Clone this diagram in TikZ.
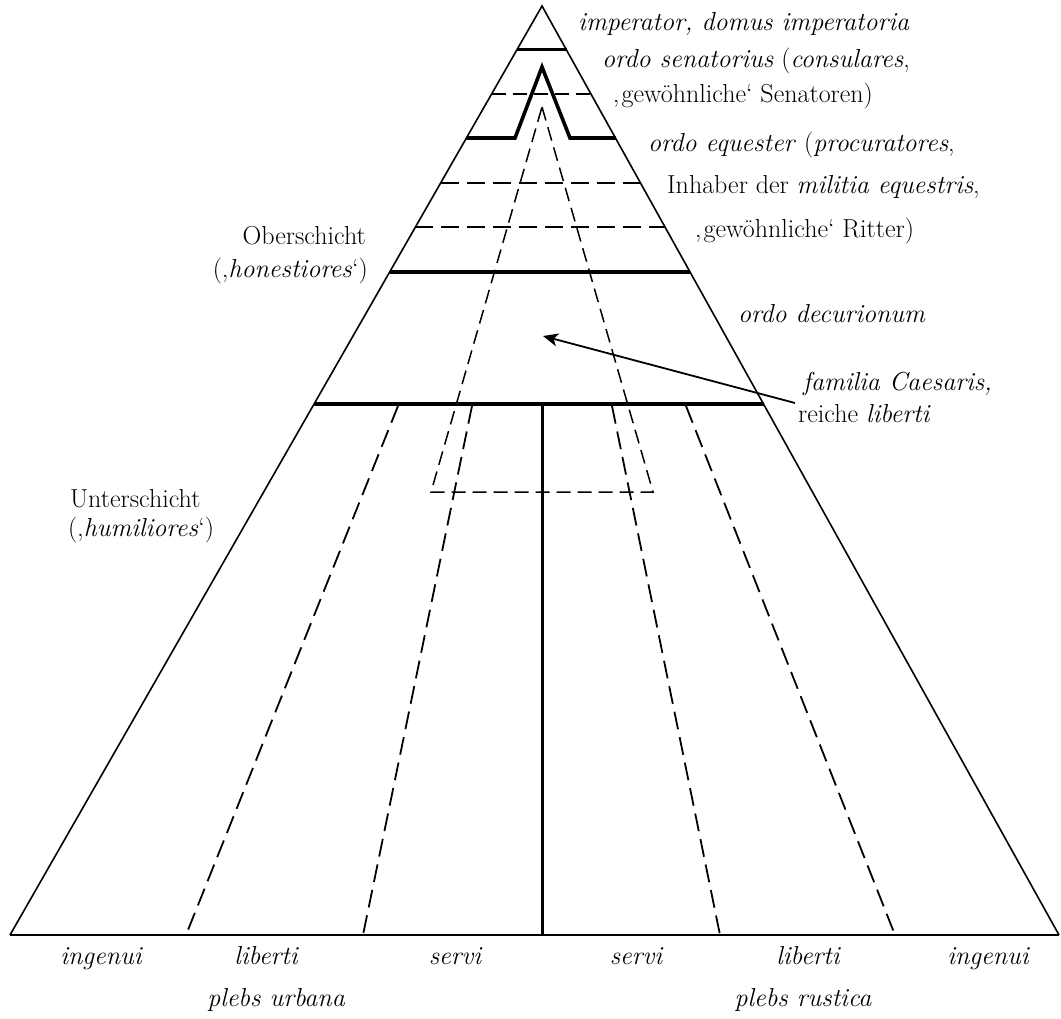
\documentclass[tikz,border=0pt]{standalone}
\usepackage{fontspec}
\usetikzlibrary{arrows.meta,calc}
\newcommand{\labfont}{\fontsize{26}{31}\selectfont\addfontfeatures{FakeBold=0.4}}
\begin{document}
\begin{tikzpicture}[x=1pt,y=-1pt,
  txt/.style={font=\labfont, inner sep=0pt, anchor=base west},
  rtxt/.style={font=\labfont, inner sep=0pt, anchor=base east},
  ctxt/.style={font=\labfont\itshape, inner sep=0pt, anchor=base},
  edgeline/.style={line width=1.6pt},
  heavy/.style={line width=3.6pt},
  heavier/.style={line width=4.6pt},
  dsh/.style={line width=1.8pt, dash pattern=on 18pt off 8pt},
  idsh/.style={line width=1.5pt, dash pattern=on 14pt off 7pt},
  arr/.style={line width=1.8pt, -{Stealth[length=15pt,width=13pt,inset=4pt]}}
]
\useasboundingbox (0,0) rectangle (1061,1019);
% pyramid
\coordinate (A) at (542,6);
\coordinate (BL) at (10,935);
\coordinate (BR) at (1059,935);
\draw[edgeline, line join=miter] (BL) -- (A) -- (BR);
\draw[line width=2pt] (BL) -- (BR);
% upper strata
\draw[line width=3pt] (516.8,50) -- (566.5,50);
\draw[idsh] (491.6,94) -- (591.0,94);
\coordinate (pk) at (542,67);
\draw[heavy, line join=miter] (466.4,138) -- (515,138) -- (pk) -- (570,138) -- (615.5,138);
\draw[dsh] (440.6,183) -- (640.5,183);
\draw[dsh] (415.4,227) -- (665.0,227);
\draw[heavy] (389.7,272) -- (690.0,272);
\draw[heavier] (314.1,404) -- (763.5,404);
% inner triangle (familia Caesaris)
\coordinate (ia) at (542,107);
\coordinate (il) at (431,492);
\coordinate (ir) at (653,492);
\draw[idsh] (ia) -- (ir) -- (il) -- cycle;
% lower strata
\draw[line width=3pt] (542,404) -- (542,935);
\draw[dsh] (398,406) -- (186,935);
\draw[dsh] (472,406) -- (363,935);
\draw[dsh] (612,406) -- (720,935);
\draw[dsh] (686,406) -- (895,935);
% arrow
\coordinate (tail) at (795,403);
\coordinate (tip) at (543,336);
\draw[arr] (tail) -- (tip);
% right labels
\node[txt] (l1) at (578,31) {\itshape imperator, domus imperatoria};
\node[txt] (l2) at (602,68) {\textit{ordo senatorius} (\textit{consulares},};
\node[txt] (l3) at (613,103) {‚gewöhnliche‘ Senatoren)};
\node[txt] (l4) at (648,152) {\textit{ordo equester} (\textit{procuratores},};
\node[txt] (l5) at (667,194) {Inhaber der \textit{militia equestris},};
\node[txt] (l6) at (695,238) {‚gewöhnliche‘ Ritter)};
\node[txt] (dec) at (738,323) {\itshape ordo decurionum};
\node[txt] (fam1) at (803,390) {\itshape familia Caesaris,};
\node[txt] (fam2) at (798,422) {reiche \textit{liberti}};
% left labels
\node[rtxt] (ob1) at (366,245) {Oberschicht};
\node[rtxt] (ob2) at (368,278) {(‚\textit{honestiores}‘)};
\node[txt] (un1) at (70,507) {Unterschicht};
\node[txt] (un2) at (68,536) {(‚\textit{humiliores}‘)};
% bottom labels
\node[ctxt] (b1) at (101,964) {ingenui};
\node[ctxt] (b2) at (266,964) {liberti};
\node[ctxt] (b3) at (455,964) {servi};
\node[ctxt] (b4) at (636,964) {servi};
\node[ctxt] (b5) at (808,964) {liberti};
\node[ctxt] (b6) at (988,964) {ingenui};
\node[ctxt] (p1) at (276,1006) {plebs urbana};
\node[ctxt] (p2) at (803,1006) {plebs rustica};
\end{tikzpicture}
\end{document}
